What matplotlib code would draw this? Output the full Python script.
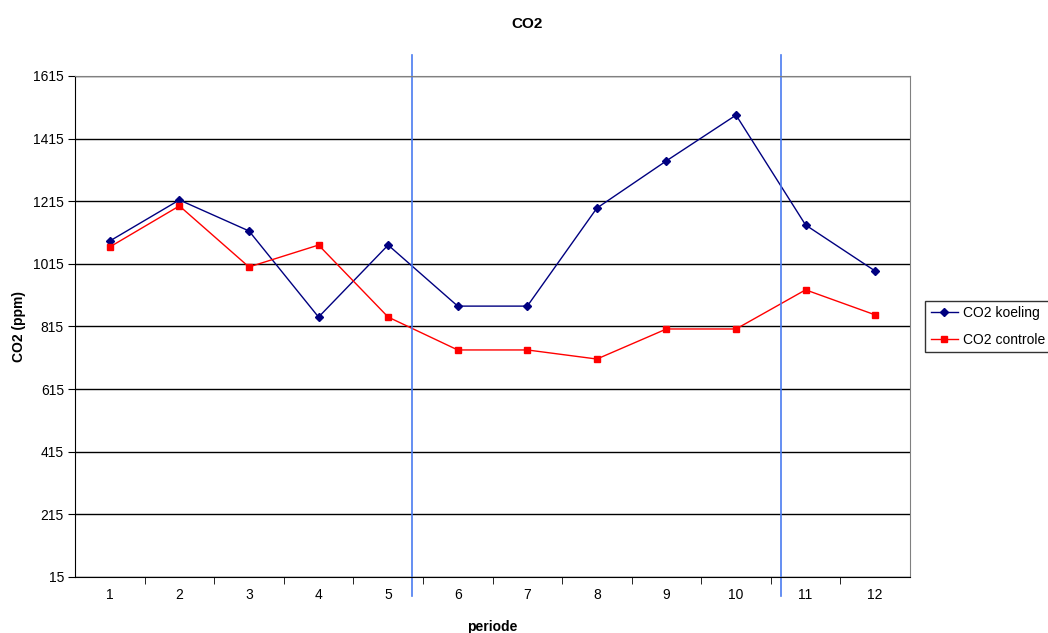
import matplotlib
matplotlib.use("Agg")
from matplotlib import pyplot

pyplot.rcParams['font.family'] = ['Liberation Sans', 'DejaVu Sans']

periode = [1, 2, 3, 4, 5, 6, 7, 8, 9, 10, 11, 12]
co2_koeling = [1088, 1219, 1120, 845, 1075, 880, 880, 1193, 1344, 1490, 1139, 992]
co2_controle = [1069, 1200, 1005, 1075, 845, 740, 740, 711, 807, 807, 932, 852]
y_ticks = [15, 215, 415, 615, 815, 1015, 1215, 1415, 1615]
markers_at = [5.34, 10.64]  # start/end of cooling period

fig = pyplot.figure(figsize=(10.48, 6.33), dpi=100)
ax = fig.add_axes([0.0716, 0.0885, 0.7967, 0.7915])

ax.plot(periode, co2_koeling, color='#000080', marker='D', markersize=4.5, linewidth=1, label='CO2 koeling')
ax.plot(periode, co2_controle, color='#FF0000', marker='s', markersize=5, linewidth=1, label='CO2 controle')

ax.set_xlim(0.5, 12.5)
ax.set_ylim(15, 1615)
ax.set_yticks(y_ticks)
ax.set_xticks(periode)
ax.set_xticks([p + 0.5 for p in periode[:-1]], minor=True)
ax.tick_params(axis='x', which='major', length=0, labelsize=10, pad=8)
ax.tick_params(axis='x', which='minor', length=5, direction='out', color='black')
ax.tick_params(axis='y', length=5, direction='out', labelsize=10, pad=3)
ax.yaxis.grid(True, color='black', linewidth=1)
ax.set_axisbelow(True)

for side in ['top', 'right']:
    ax.spines[side].set_color('#808080')
for side in ['left', 'bottom']:
    ax.spines[side].set_color('black')

for xv in markers_at:
    ax.axvline(xv, ymin=-0.037, ymax=1.042, color='#4A7BF0', linewidth=1.2, clip_on=False)

ax.set_xlabel('periode', fontsize=10, fontweight='bold', labelpad=13)
ax.set_ylabel('CO2 (ppm)', fontsize=10, fontweight='bold', labelpad=5)
fig.text(0.503, 0.962, 'CO2', ha='center', va='center', fontsize=11, fontweight='bold')

leg = ax.legend(loc='center left', bbox_to_anchor=(1.018, 0.5), fontsize=10, frameon=True,
                fancybox=False, edgecolor='black', handlelength=2.0, borderpad=0.4,
                labelspacing=0.9, handletextpad=0.3, borderaxespad=0)
leg.get_frame().set_linewidth(1)

pyplot.savefig('out.png', dpi=100)
pyplot.close()
